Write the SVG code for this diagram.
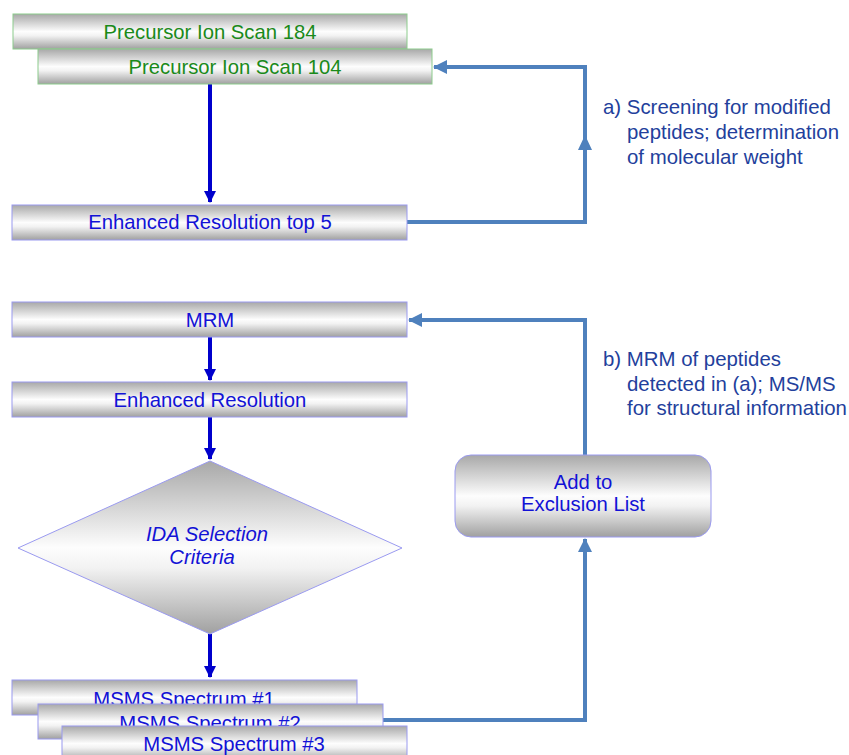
<svg xmlns="http://www.w3.org/2000/svg" width="849" height="755" viewBox="0 0 849 755">
<style>
.box{stroke:#9a9af0;stroke-width:1;fill:url(#g)}
.gbox{stroke:#8ccc8c;stroke-width:1;fill:url(#g)}
.t{font-family:"Liberation Sans",Arial,sans-serif;font-size:20.3px;fill:#1212d6;text-anchor:middle}
.gt{font-family:"Liberation Sans",Arial,sans-serif;font-size:20.3px;fill:#1a8a1a;text-anchor:middle}
.note{font-family:"Liberation Sans",Arial,sans-serif;font-size:20.4px;fill:#233f9c}
.down{stroke:#0000cc;stroke-width:4;fill:none}
.loop{stroke:#4f81bd;stroke-width:4;fill:none}
</style>
<defs>
<linearGradient id="g" x1="0" y1="0" x2="0" y2="1">
<stop offset="0" stop-color="#a8a8a8"/>
<stop offset="0.5" stop-color="#fdfdfd"/>
<stop offset="0.62" stop-color="#f2f2f2"/>
<stop offset="1" stop-color="#a0a0a0"/>
</linearGradient>
<marker id="ad" markerWidth="12" markerHeight="12" viewBox="0 0 12 12" refX="11" refY="6" orient="auto" markerUnits="userSpaceOnUse">
<path d="M0,0 L12,6 L0,12 z" fill="#0000cc"/>
</marker>
<marker id="al" markerWidth="14" markerHeight="14" viewBox="0 0 14 14" refX="13" refY="7" orient="auto" markerUnits="userSpaceOnUse">
<path d="M0,0 L14,7 L0,14 z" fill="#4f81bd"/>
</marker>
</defs>
<rect width="849" height="755" fill="#fff"/>

<g id="connectors">
<path class="down" d="M210,84 V202" marker-end="url(#ad)"/>
<path class="down" d="M210,337 V380" marker-end="url(#ad)"/>
<path class="down" d="M210,417 V459" marker-end="url(#ad)"/>
<path class="down" d="M210,634 V677" marker-end="url(#ad)"/>
<path class="loop" d="M407,222 H585 V67 H434" marker-end="url(#al)"/>
<path d="M578,150 L585,135 L592,150 z" fill="#4f81bd"/>
<path class="loop" d="M383,720 H585 V539" marker-end="url(#al)"/>
<path class="loop" d="M585,455 V320 H409" marker-end="url(#al)"/>
</g>

<g id="pis184">
<rect class="gbox" x="13" y="14" width="394" height="35"/>
<text class="gt" x="210" y="39">Precursor Ion Scan 184</text>
</g>
<g id="pis104">
<rect class="gbox" x="38" y="49" width="394" height="35"/>
<text class="gt" x="235" y="74">Precursor Ion Scan 104</text>
</g>
<g id="ertop5">
<rect class="box" x="12" y="205" width="395" height="35"/>
<text class="t" x="210" y="229">Enhanced Resolution top 5</text>
</g>
<g id="noteA">
<text class="note"><tspan x="603" y="114">a) Screening for modified</tspan><tspan x="627" y="139">peptides; determination</tspan><tspan x="627" y="164">of molecular weight</tspan></text>
</g>

<g id="mrm">
<rect class="box" x="12" y="302" width="395" height="35"/>
<text class="t" x="210" y="327">MRM</text>
</g>
<g id="er">
<rect class="box" x="12" y="382" width="395" height="35"/>
<text class="t" x="210" y="407">Enhanced Resolution</text>
</g>
<g id="ida">
<path class="box" d="M210,461 L402,548 L210,634 L18,548 z"/>
<text class="t" font-style="italic" font-size="22.5px"><tspan x="207" y="541">IDA Selection</tspan><tspan x="202" y="564">Criteria</tspan></text>
</g>
<g id="excl">
<rect class="box" x="455" y="455" width="256" height="82" rx="16"/>
<text class="t"><tspan x="583" y="489">Add to</tspan><tspan x="583" y="511">Exclusion List</tspan></text>
</g>
<g id="noteB">
<text class="note"><tspan x="603" y="366">b) MRM of peptides</tspan><tspan x="627" y="391">detected in (a); MS/MS</tspan><tspan x="627" y="415">for structural information</tspan></text>
</g>

<g id="msms1">
<rect class="box" x="12" y="680" width="345" height="35"/>
<text class="t" x="184" y="706">MSMS Spectrum #1</text>
</g>
<g id="msms2">
<rect class="box" x="38" y="704" width="345" height="35"/>
<text class="t" x="210" y="730">MSMS Spectrum #2</text>
</g>
<g id="msms3">
<rect class="box" x="62" y="726" width="345" height="35"/>
<text class="t" x="234" y="751">MSMS Spectrum #3</text>
</g>
</svg>
